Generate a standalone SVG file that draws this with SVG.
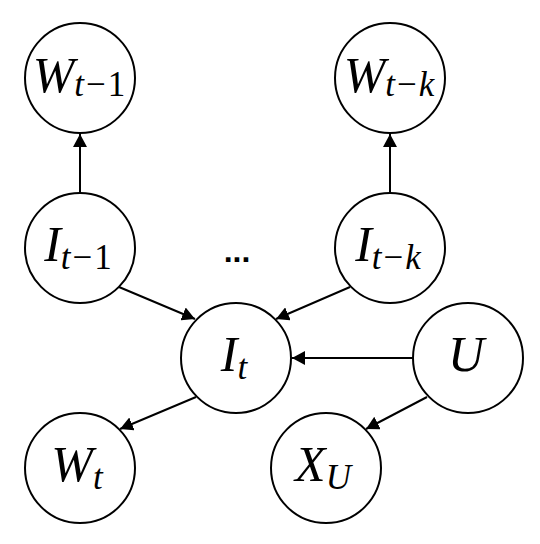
<svg xmlns="http://www.w3.org/2000/svg" width="540" height="544" viewBox="0 0 540 544">
<defs>
<marker id="arr" markerUnits="userSpaceOnUse" markerWidth="14" markerHeight="14" refX="13" refY="7" orient="auto">
<path d="M0,0 L13,7 L0,14 z" fill="#000"/>
</marker>
<style>
.node circle{fill:#fff;stroke:#000;stroke-width:2}
.lbl{font-family:"Liberation Serif","DejaVu Serif",serif;font-style:italic;font-size:50px;fill:#000;text-anchor:middle}
.sub{font-size:35px}
.up{font-style:normal}
#edges line{stroke:#000;stroke-width:2;marker-end:url(#arr)}
.dots{font-family:"Liberation Sans",Arial,sans-serif;font-weight:bold;font-size:32px;text-anchor:middle}
</style>
</defs>
<rect width="540" height="544" fill="#fff"/>
<g id="edges">
<line x1="80" y1="193" x2="80" y2="134"/>
<line x1="390" y1="193" x2="390" y2="134"/>
<line x1="119" y1="287" x2="195" y2="319"/>
<line x1="350" y1="287" x2="276" y2="319"/>
<line x1="413" y1="358" x2="292" y2="358"/>
<line x1="196" y1="397" x2="120" y2="429"/>
<line x1="427" y1="397" x2="366" y2="429"/>
</g>
<g id="W_t-1" class="node"><circle cx="80" cy="78" r="55"/><text class="lbl" x="79" y="92">W<tspan class="sub" dy="4">t<tspan class="up" dx="2">−</tspan><tspan class="up" dx="2">1</tspan></tspan></text></g>
<g id="W_t-k" class="node"><circle cx="390" cy="78" r="55"/><text class="lbl" x="389" y="92">W<tspan class="sub" dy="4">t<tspan class="up" dx="2">−</tspan><tspan dx="2">k</tspan></tspan></text></g>
<g id="I_t-1" class="node"><circle cx="80" cy="248" r="55"/><text class="lbl" x="78" y="261">I<tspan class="sub" dy="8">t<tspan class="up" dx="2">−</tspan><tspan class="up" dx="2">1</tspan></tspan></text></g>
<g id="I_t-k" class="node"><circle cx="390" cy="248" r="55"/><text class="lbl" x="388" y="261">I<tspan class="sub" dy="8">t<tspan class="up" dx="2">−</tspan><tspan dx="2">k</tspan></tspan></text></g>
<g id="dots"><text class="dots" x="237" y="262">...</text></g>
<g id="I_t" class="node"><circle cx="236" cy="358" r="55"/><text class="lbl" x="234" y="371">I<tspan class="sub" dy="8">t</tspan></text></g>
<g id="U" class="node"><circle cx="468" cy="358" r="55"/><text class="lbl" x="466" y="371">U</text></g>
<g id="W_t" class="node"><circle cx="80" cy="468" r="55"/><text class="lbl" x="77" y="481">W<tspan class="sub" dy="8">t</tspan></text></g>
<g id="X_U" class="node"><circle cx="326" cy="468" r="55"/><text class="lbl" x="323" y="481">X<tspan class="sub" dy="8">U</tspan></text></g>
</svg>
